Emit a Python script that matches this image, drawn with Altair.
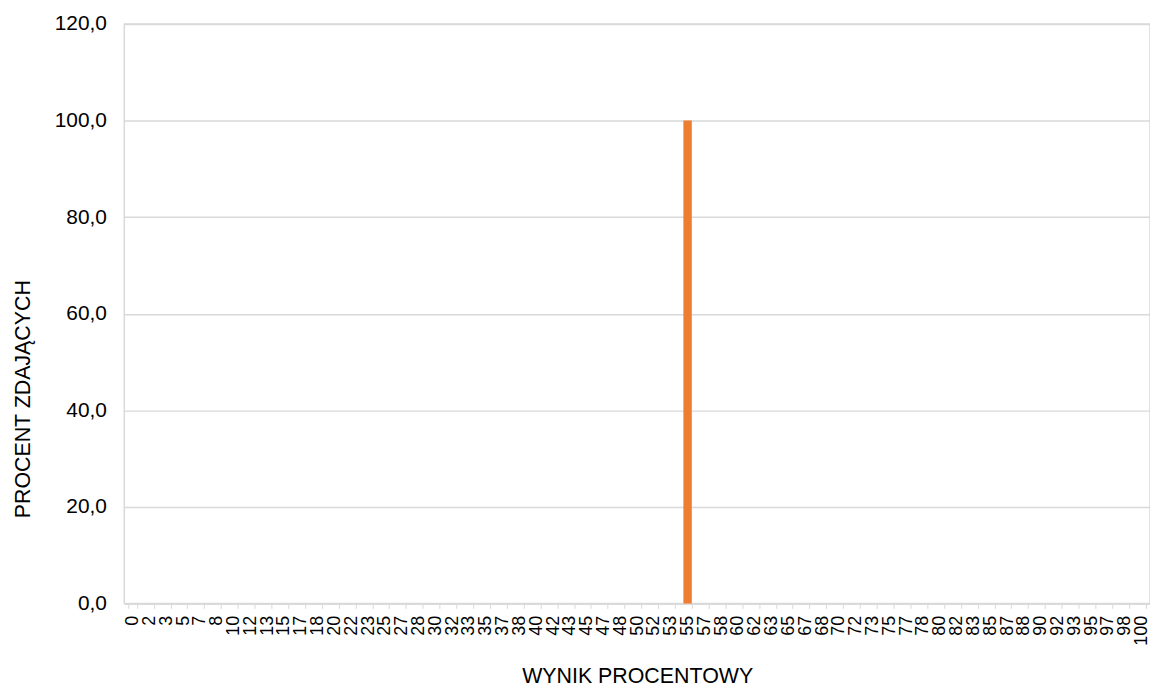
import altair as alt
import pandas as pd

categories = ["0", "2", "3", "5", "7", "8", "10", "12", "13", "15", "17", "18", "20", "22", "23",
              "25", "27", "28", "30", "32", "33", "35", "37", "38", "40", "42", "43", "45", "47",
              "48", "50", "52", "53", "55", "57", "58", "60", "62", "63", "65", "67", "68", "70",
              "72", "73", "75", "77", "78", "80", "82", "83", "85", "87", "88", "90", "92", "93",
              "95", "97", "98", "100"]
values = [0.0] * len(categories)
values[categories.index("55")] = 100.0

df = pd.DataFrame({"wynik": categories, "procent": values})

FONT = "Liberation Sans"
GRID = "#d9d9d9"

chart = alt.Chart(df).mark_bar(color="#ED7D31").encode(
    x=alt.X("wynik:N", sort=categories,
            scale=alt.Scale(paddingInner=0.5, paddingOuter=0.25),
            axis=alt.Axis(title="WYNIK PROCENTOWY", labelAngle=270, labelAlign="right",
                          labelBaseline="middle", labelFontSize=18, labelPadding=7,
                          labelOverlap=False, tickBand="extent", tickColor=GRID,
                          tickSize=5, domainColor=GRID, domainWidth=1.5,
                          titleFontSize=21.5, titleFontWeight="normal",
                          titleY=74, titleBaseline="middle")),
    y=alt.Y("procent:Q", scale=alt.Scale(domain=[0, 120]),
            axis=alt.Axis(title="PROCENT ZDAJĄCYCH", values=[0, 20, 40, 60, 80, 100, 120],
                          labelExpr="replace(format(datum.value, '.1f'), '.', ',')",
                          labelFontSize=21, labelPadding=18, ticks=False, domain=False,
                          gridColor=GRID, gridWidth=1.5,
                          titleFontSize=21.5, titleFontWeight="normal",
                          titleX=-101, titleY=377, titleBaseline="middle",
                          titleAlign="center", titleAngle=270)),
).properties(
    width=1032, height=583,
    autosize=alt.AutoSizeParams(type="none"),
    padding={"left": 117, "top": 14, "right": 0, "bottom": 86},
).configure_view(
    stroke=GRID, strokeWidth=1.5
).configure_axis(
    labelFont=FONT, titleFont=FONT, labelColor="#000000", titleColor="#000000"
)

chart.save("out.html", embed_options={"renderer": "svg", "actions": False})
